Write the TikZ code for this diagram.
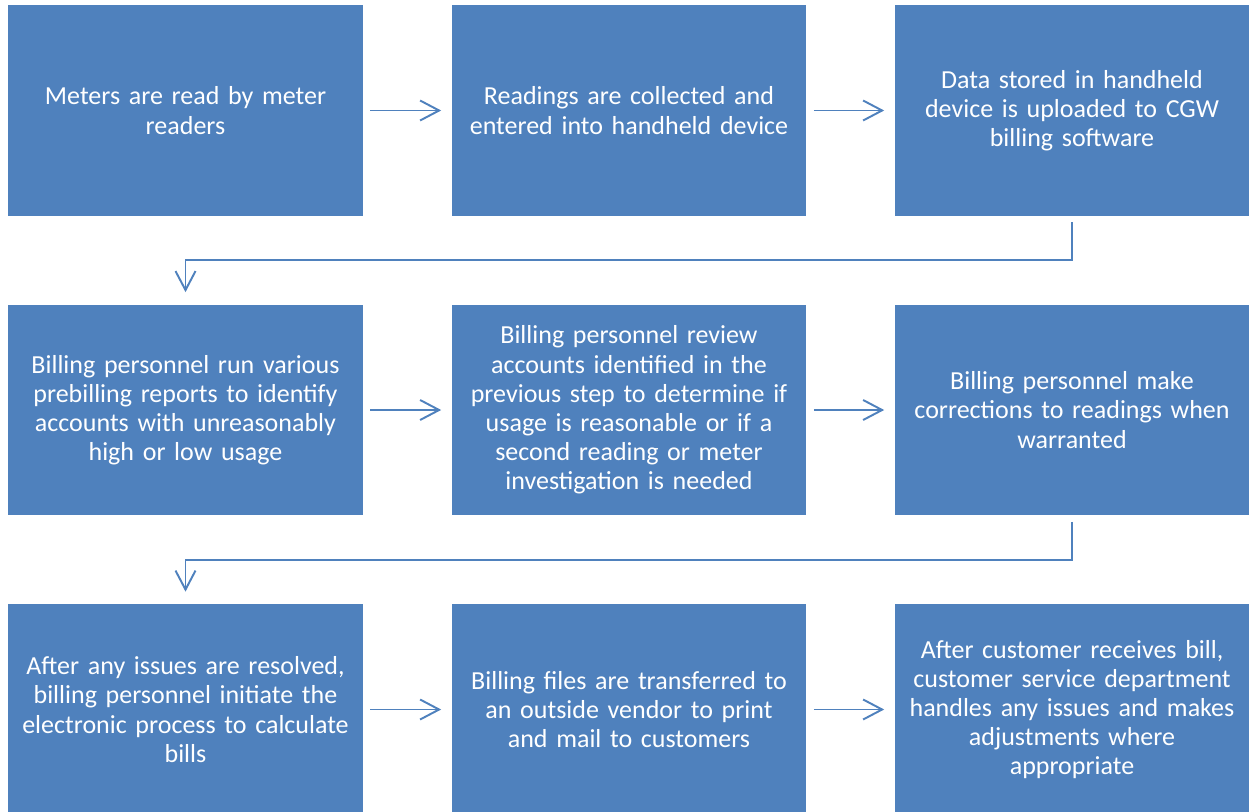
\documentclass[tikz,border=0pt]{standalone}
\usepackage{fontspec}
\setmainfont{Carlito}
\usepackage{tikz}
\usetikzlibrary{positioning,calc,arrows.meta}
\definecolor{boxblue}{HTML}{4F81BD}

\tikzset{
    stepbox/.style={fill=boxblue, text=white, minimum width=7.1cm, minimum height=4.22cm,
        text width=6.95cm, align=center, inner sep=0pt,
        font=\fontsize{14.8}{16.6}\selectfont},
    flow/.style={draw=boxblue, line width=1.1pt,
        -{Straight Barb[length=0.38cm, width=0.4cm, line width=1.1pt]}},
}

\begin{document}
\begin{tikzpicture}[x=0.02cm, y=-0.02cm]
    \clip (0,0) rectangle (1250,811);
    \fill[white] (0,0) rectangle (1250,811);

    % first row
    \node[stepbox] (read) at (185.5,110.5) {Meters are read by meter\\readers};
    \node[stepbox] (collect) at (629,110.5) {Readings are collected and\\entered into handheld device};
    \node[stepbox] (upload) at (1072,110.5) {Data stored in handheld\\device is uploaded to CGW\\billing software};

    % second row
    \node[stepbox] (prebill) at (185.5,410) {Billing personnel run various\\prebilling reports to identify\\accounts with unreasonably\\high or low usage};
    \node[stepbox] (review) at (629,410) {Billing personnel review\\accounts identified in the\\previous step to determine if\\usage is reasonable or if a\\second reading or meter\\investigation is needed};
    \node[stepbox] (correct) at (1072,410) {Billing personnel make\\corrections to readings when\\warranted};

    % third row
    \node[stepbox] (calc) at (185.5,709.5) {After any issues are resolved,\\billing personnel initiate the\\electronic process to calculate\\bills};
    \node[stepbox] (vendor) at (629,709.5) {Billing files are transferred to\\an outside vendor to print\\and mail to customers};
    \node[stepbox] (service) at (1072,709.5) {After customer receives bill,\\customer service department\\handles any issues and makes\\adjustments where\\appropriate};

    % connectors
    \draw[flow, shorten <=0.14cm, shorten >=0.2cm] (read) -- (collect);
    \draw[flow, shorten <=0.14cm, shorten >=0.2cm] (collect) -- (upload);
    \draw[flow, shorten <=0.14cm, shorten >=0.2cm] (prebill) -- (review);
    \draw[flow, shorten <=0.14cm, shorten >=0.2cm] (review) -- (correct);
    \draw[flow, shorten <=0.14cm, shorten >=0.2cm] (calc) -- (vendor);
    \draw[flow, shorten <=0.14cm, shorten >=0.2cm] (vendor) -- (service);

    \coordinate (turnA) at ($(upload.south)!0.5!(correct.north)$);
    \coordinate (turnB) at ($(correct.south)!0.5!(service.north)$);
    \draw[flow, shorten <=0.12cm, shorten >=0.24cm] (upload.south) -- (turnA) -| (prebill.north);
    \draw[flow, shorten <=0.12cm, shorten >=0.24cm] (correct.south) -- (turnB) -| (calc.north);
\end{tikzpicture}
\end{document}
